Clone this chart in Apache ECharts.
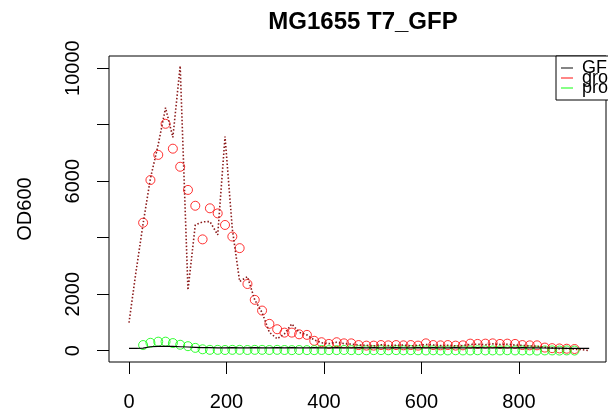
<!DOCTYPE html>
<html><head><meta charset="utf-8">
<script src="https://cdn.jsdelivr.net/npm/echarts@6/dist/echarts.min.js"></script>
<style>html,body{margin:0;padding:0;background:#fff}#c{width:608px;height:413px}</style>
</head><body><div id="c"></div>
<script>
// time points (minutes)
const times = [0,14,29,44,60,75,90,105,121,136,151,166,182,197,212,227,243,258,273,288,304,319,334,349,365,380,395,410,426,441,456,471,487,502,517,532,548,563,578,593,609,624,639,654,670,685,700,715,731,746,761,776,792,807,822,837,853,868,883,898,914,929,944];
// growth (red circles)
const growth = [null,null,4530,6040,6930,8030,7150,6510,5690,5130,3940,5040,4860,4450,4040,3630,2360,1800,1420,950,760,640,640,580,560,350,300,240,300,260,260,200,180,180,200,190,200,190,200,180,260,200,190,200,180,190,250,240,250,260,240,250,240,200,190,190,110,90,80,70,60,null,null];
// growth replicate (dark red dotted line)
const growth2 = [990,2750,4500,6100,7300,8600,7550,10080,2150,4450,4560,4570,4100,7580,4300,2450,2620,1800,1350,650,420,600,950,650,560,380,280,250,300,250,230,200,190,170,210,180,190,200,170,190,220,200,180,190,170,180,220,230,210,240,220,230,200,190,170,160,120,100,70,80,50,40,0];
// GFP (black line)
const gfp = [80,85,90,140,150,150,150,140,130,120,110,110,100,100,110,100,100,110,100,100,110,100,110,100,100,110,100,100,110,100,100,110,100,110,100,100,110,100,100,110,100,110,100,100,110,100,100,110,100,100,110,100,100,110,100,100,95,90,90,85,85,85,85];
// production (green circles)
const production = [null,null,200,280,320,320,270,210,160,100,50,30,30,25,30,30,25,30,30,25,30,25,20,25,20,20,25,20,20,25,20,20,15,20,20,15,20,15,20,15,10,15,10,10,15,10,10,15,10,10,10,15,10,10,10,5,10,10,5,10,5,null,null];
// tick values
const xTicks = [0,200,400,600,800];
const yTicks = [0,2000,4000,6000,8000,10000];
const yLabels = [0,2000,6000,10000];

const pair = arr => times.map((t,i)=>[t,arr[i]]).filter(p=>p[1]!==null);
const FONT = "'Liberation Sans', Arial, sans-serif";
const LINE_ICON = 'path://M0,0H12V1.2H0Z';

const chart = echarts.init(document.getElementById('c'));
chart.setOption({
  animation:false,
  backgroundColor:'#fff',
  title:{text:'MG1655 T7_GFP',left:358,top:5,textAlign:'center',
    textStyle:{fontFamily:FONT,fontSize:24,fontWeight:'bold',color:'#000'}},
  legend:{
    orient:'vertical',left:556,top:56,padding:[3,5,3,5],itemGap:-8,
    itemWidth:12,itemHeight:1.2,icon:LINE_ICON,
    borderColor:'#000',borderWidth:1,backgroundColor:'#fff',
    textStyle:{fontFamily:FONT,fontSize:18,lineHeight:11,color:'#000',padding:[0,0,0,4]},
    data:[{name:'GFP',icon:LINE_ICON,itemStyle:{color:'#333',borderWidth:0}},
          {name:'growth',icon:LINE_ICON,itemStyle:{color:'#ff0000',borderWidth:0}},
          {name:'production',icon:LINE_ICON,itemStyle:{color:'#00ff00',borderWidth:0}}]
  },
  grid:{left:109,right:2,top:56,bottom:51,show:true,borderColor:'#000',borderWidth:1,backgroundColor:'#fff'},
  xAxis:{type:'value',min:-41,max:978.5,
    axisLine:{show:false,onZero:false},splitLine:{show:false},
    axisTick:{show:true,customValues:xTicks,length:12,lineStyle:{color:'#000',width:1}},
    axisLabel:{customValues:xTicks,margin:30,fontFamily:FONT,fontSize:20,color:'#000',formatter:v=>String(v)}},
  yAxis:{type:'value',min:-400,max:10430,
    name:'OD600',nameLocation:'middle',nameRotate:90,nameGap:74,
    nameTextStyle:{fontFamily:FONT,fontSize:20,color:'#000'},
    axisLine:{show:false,onZero:false},splitLine:{show:false},
    axisTick:{show:true,customValues:yTicks,length:12,lineStyle:{color:'#000',width:1}},
    axisLabel:{customValues:yLabels,rotate:90,margin:26,fontFamily:FONT,fontSize:20,color:'#000',formatter:v=>String(v)}},
  series:[
    {name:'growth',type:'scatter',data:pair(growth),symbol:'circle',symbolSize:9,legendIcon:LINE_ICON,
      itemStyle:{color:'transparent',borderColor:'#ff0000',borderWidth:1}},
    {name:'growth2',type:'line',data:pair(growth2),showSymbol:false,symbol:'none',
      lineStyle:{color:'#8b1a1a',width:1.6,type:[1.5,2]}},
    {name:'GFP',type:'line',data:pair(gfp),showSymbol:false,symbol:'none',legendIcon:LINE_ICON,
      lineStyle:{color:'#000',width:1.2}},
    {name:'production',type:'scatter',data:pair(production),symbol:'circle',symbolSize:9,legendIcon:LINE_ICON,
      itemStyle:{color:'transparent',borderColor:'#00ff00',borderWidth:1}}
  ]
});
</script></body></html>
